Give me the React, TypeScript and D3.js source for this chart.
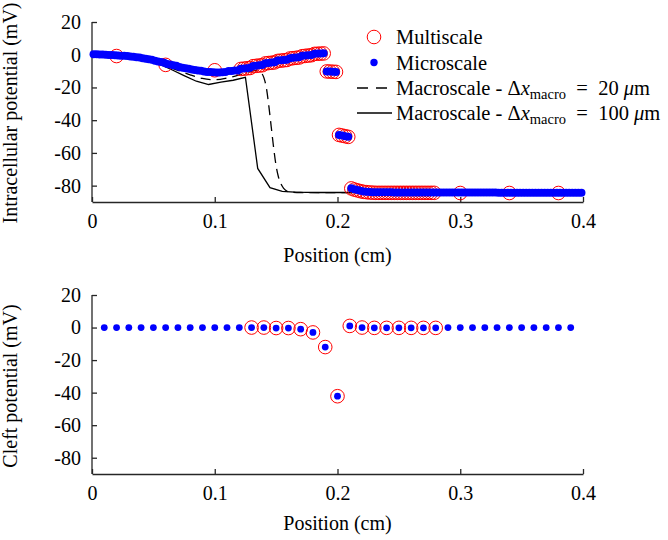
import React, { useRef, useEffect } from 'react';
import * as d3 from 'd3';

// cells are 100 um long; microscale is sampled 4 times per cell
const cellStarts = [
  0, 0.01, 0.02, 0.03, 0.04, 0.05, 0.06, 0.07, 0.08, 0.09,
  0.1, 0.11, 0.12, 0.13, 0.14, 0.15, 0.16, 0.17, 0.18, 0.19,
  0.2, 0.21, 0.22, 0.23, 0.24, 0.25, 0.26, 0.27, 0.28, 0.29,
  0.3, 0.31, 0.32, 0.33, 0.34, 0.35, 0.36, 0.37, 0.38, 0.39,
];
const subOffsets = [0.00125, 0.00375, 0.00625, 0.00875];

const microValues = [
  [0.3, 0.3, 0.2, 0.2],
  [0.0, -0.1, -0.2, -0.3],
  [-0.5, -0.6, -0.7, -0.8],
  [-1.1, -1.3, -1.5, -1.7],
  [-2.2, -2.5, -2.8, -3.1],
  [-3.7, -4.1, -4.5, -4.9],
  [-5.6, -6.0, -6.4, -6.8],
  [-7.5, -7.9, -8.2, -8.5],
  [-9.1, -9.4, -9.6, -9.8],
  [-10.3, -10.5, -10.6, -10.7],
  [-10.9, -10.8, -10.7, -10.6],
  [-10.0, -9.9, -9.7, -9.6],
  [-8.6, -8.4, -8.2, -8.0],
  [-6.9, -6.7, -6.5, -6.3],
  [-5.2, -5.0, -4.8, -4.6],
  [-3.6, -3.4, -3.2, -3.0],
  [-2.1, -1.9, -1.7, -1.5],
  [-0.7, -0.5, -0.3, -0.1],
  [0.6, 0.7, 0.8, 0.9],
  [-10.2, -10.3, -10.4, -10.5],
  [-49.0, -49.4, -49.8, -50.2],
  [-81.6, -82.2, -82.7, -83.1],
  [-83.6, -83.8, -83.9, -84.0],
  [-84.1, -84.1, -84.1, -84.1],
  [-84.1, -84.1, -84.2, -84.2],
  [-84.2, -84.2, -84.2, -84.2],
  [-84.2, -84.2, -84.2, -84.2],
  [-84.2, -84.2, -84.2, -84.2],
  [-84.2, -84.2, -84.2, -84.2],
  [-84.2, -84.2, -84.2, -84.2],
  [-84.2, -84.2, -84.2, -84.2],
  [-84.2, -84.2, -84.2, -84.2],
  [-84.2, -84.2, -84.2, -84.2],
  [-84.3, -84.3, -84.3, -84.3],
  [-84.3, -84.3, -84.3, -84.3],
  [-84.3, -84.3, -84.3, -84.3],
  [-84.3, -84.3, -84.3, -84.3],
  [-84.3, -84.3, -84.3, -84.3],
  [-84.3, -84.3, -84.3, -84.3],
  [-84.3, -84.3, -84.3, -84.3],
];

// multiscale: microscale resolution between 0.12 and 0.28 cm, coarse elsewhere
const multiDenseStarts = [
  0.12, 0.13, 0.14, 0.15, 0.16, 0.17, 0.18, 0.19,
  0.2, 0.21, 0.22, 0.23, 0.24, 0.25, 0.26, 0.27,
];
const multiDenseValues = [
  [-8.7, -8.5, -8.3, -8.1],
  [-7.0, -6.8, -6.6, -6.4],
  [-5.3, -5.1, -4.9, -4.7],
  [-3.8, -3.6, -3.4, -3.2],
  [-2.3, -2.1, -1.9, -1.7],
  [-0.9, -0.7, -0.5, -0.3],
  [0.5, 0.6, 0.7, 0.8],
  [-10.2, -10.3, -10.4, -10.5],
  [-49.0, -49.4, -49.8, -50.2],
  [-81.7, -82.4, -82.9, -83.4],
  [-83.8, -84.0, -84.2, -84.3],
  [-84.4, -84.4, -84.4, -84.4],
  [-84.4, -84.4, -84.4, -84.4],
  [-84.4, -84.4, -84.4, -84.4],
  [-84.4, -84.4, -84.4, -84.4],
  [-84.4, -84.4, -84.4, -84.4],
];
const multiSparseX = [0.02, 0.06, 0.1, 0.3, 0.34, 0.38];
const multiSparseY = [-0.8, -6.2, -9.5, -84.5, -84.5, -84.5];

// macroscale, dx = 20 um
const macro20X = [
  0, 0.01, 0.02, 0.03, 0.04, 0.05, 0.06, 0.07, 0.08, 0.09, 0.1, 0.11, 0.12, 0.13,
  0.134, 0.137, 0.14, 0.142, 0.144, 0.146, 0.148, 0.15, 0.152, 0.154, 0.156, 0.158,
  0.16, 0.17, 0.2, 0.3, 0.4,
];
const macro20Y = [
  -0.3, -0.5, -0.8, -1.3, -2.3, -4.2, -6.8, -9.5, -12.3, -14.5, -15.3, -14.2, -12.3, -10.0,
  -9.6, -10.5, -14, -20, -31, -44, -57, -68, -75, -79, -81.5, -83,
  -83.8, -84.2, -84.3, -84.4, -84.5,
];

// macroscale, dx = 100 um (cell centres)
const macro100X = [
  0.005, 0.015, 0.025, 0.035, 0.045, 0.055, 0.065, 0.075, 0.085, 0.095,
  0.105, 0.115, 0.125, 0.135, 0.145, 0.155, 0.165, 0.175, 0.185, 0.195,
  0.205, 0.215, 0.225, 0.235, 0.245, 0.255, 0.265, 0.275, 0.285, 0.295,
  0.305, 0.315, 0.325, 0.335, 0.345, 0.355, 0.365, 0.375, 0.385, 0.395,
];
const macro100Y = [
  -0.5, -0.8, -1.2, -1.8, -3.2, -5.8, -9.2, -12.8, -16.2, -18.2,
  -16.8, -15.6, -13.8, -69.5, -81.2, -83.5, -84.0, -84.1, -84.2, -84.2,
  -84.2, -84.2, -84.2, -84.2, -84.2, -84.3, -84.3, -84.3, -84.3, -84.3,
  -84.3, -84.3, -84.3, -84.3, -84.3, -84.3, -84.3, -84.3, -84.3, -84.3,
];

// cleft potentials at the cell junctions
const cleftX = [
  0.01, 0.02, 0.03, 0.04, 0.05, 0.06, 0.07, 0.08, 0.09, 0.1,
  0.11, 0.12, 0.13, 0.14, 0.15, 0.16, 0.17, 0.18, 0.19, 0.2,
  0.21, 0.22, 0.23, 0.24, 0.25, 0.26, 0.27, 0.28, 0.29, 0.3,
  0.31, 0.32, 0.33, 0.34, 0.35, 0.36, 0.37, 0.38, 0.39,
];
const cleftMicro = [
  0, 0, 0, 0, 0, 0, 0, 0, 0, 0,
  0, 0, 0, 0, -0.3, -0.3, -1.0, -3.0, -12.0, -42.2,
  1.0, 0, -0.2, -0.2, -0.2, -0.2, -0.2, -0.2, 0, 0,
  0, 0, 0, 0, 0, 0, 0, 0, 0,
];
const cleftMultiX = [
  0.13, 0.14, 0.15, 0.16, 0.17, 0.18, 0.19, 0.2,
  0.21, 0.22, 0.23, 0.24, 0.25, 0.26, 0.27, 0.28,
];
const cleftMulti = [
  0, 0, -0.3, -0.3, -1.0, -3.0, -12.0, -42.2,
  1.0, 0, -0.2, -0.2, -0.2, -0.2, -0.2, -0.2,
];

const xTicks = [0, 0.1, 0.2, 0.3, 0.4];
const yTicks = [20, 0, -20, -40, -60, -80];

const FONT = "'Liberation Serif', 'Times New Roman', serif";
const AXIS_COLOR = '#262626';

function App() {
  const svgRef = useRef(null);

  useEffect(() => {
    const svg = d3.select(svgRef.current);
    svg.selectAll('*').remove();

    const x = d3.scaleLinear().domain([0, 0.4]).range([92, 583]);
    const yTop = d3.scaleLinear().domain([-90, 20]).range([202, 22]);
    const yBot = d3.scaleLinear().domain([-90, 20]).range([474, 295]);

    const drawAxes = (y, label, labelY, xLabelOffset) => {
      const gx = svg.append('g')
        .attr('transform', `translate(0,${y.range()[0]})`)
        .call(d3.axisBottom(x).tickValues(xTicks).tickFormat(d => String(d))
          .tickSizeInner(-5).tickSizeOuter(0).tickPadding(12));
      const gy = svg.append('g')
        .attr('transform', `translate(${x.range()[0]},0)`)
        .call(d3.axisLeft(y).tickValues(yTicks).tickFormat(d => String(d))
          .tickSizeInner(-5).tickSizeOuter(0).tickPadding(11));
      [gx, gy].forEach(g => {
        g.attr('font-family', FONT).attr('font-size', 20);
        g.select('.domain').attr('stroke', AXIS_COLOR).attr('stroke-width', 1.3);
        g.selectAll('.tick line').attr('stroke', AXIS_COLOR).attr('stroke-width', 1.3);
        g.selectAll('.tick text').attr('fill', '#000');
      });
      // y axis runs the full domain, up to 20
      gy.select('.domain').attr('d', `M0,${y.range()[0]}V${y.range()[1]}`);

      svg.append('text')
        .attr('x', (x.range()[0] + x.range()[1]) / 2)
        .attr('y', y.range()[0] + xLabelOffset)
        .attr('text-anchor', 'middle')
        .attr('font-family', FONT).attr('font-size', 20)
        .text('Position (cm)');

      svg.append('text')
        .attr('transform', `translate(17,${labelY}) rotate(-90)`)
        .attr('text-anchor', 'middle')
        .attr('font-family', FONT).attr('font-size', 20)
        .text(label);
    };

    drawAxes(yTop, 'Intracellular potential (mV)', 113, 60);
    drawAxes(yBot, 'Cleft potential (mV)', 386, 56);

    // ---- top panel ----
    const microPts = [];
    cellStarts.forEach((s, i) => {
      subOffsets.forEach((o, j) => microPts.push([s + o, microValues[i][j]]));
    });
    const multiPts = multiSparseX.map((v, i) => [v, multiSparseY[i]]);
    multiDenseStarts.forEach((s, i) => {
      subOffsets.forEach((o, j) => multiPts.push([s + o, multiDenseValues[i][j]]));
    });

    const line = d3.line()
      .x(d => x(d[0]))
      .y(d => yTop(d[1]));

    svg.append('path')
      .datum(macro20X.map((v, i) => [v, macro20Y[i]]))
      .attr('fill', 'none')
      .attr('stroke', '#000')
      .attr('stroke-width', 1.3)
      .attr('stroke-dasharray', '10,6')
      .attr('d', line.curve(d3.curveMonotoneX));

    svg.append('path')
      .datum(macro100X.map((v, i) => [v, macro100Y[i]]))
      .attr('fill', 'none')
      .attr('stroke', '#000')
      .attr('stroke-width', 1.3)
      .attr('d', line.curve(d3.curveLinear));

    svg.append('g').selectAll('circle')
      .data(multiPts)
      .enter().append('circle')
      .attr('cx', d => x(d[0]))
      .attr('cy', d => yTop(d[1]))
      .attr('r', 6.8)
      .attr('fill', 'none')
      .attr('stroke', '#ff0000')
      .attr('stroke-width', 1);

    svg.append('g').selectAll('circle')
      .data(microPts)
      .enter().append('circle')
      .attr('cx', d => x(d[0]))
      .attr('cy', d => yTop(d[1]))
      .attr('r', 4)
      .attr('fill', '#0000ff');

    // ---- bottom panel ----
    svg.append('g').selectAll('circle')
      .data(cleftMultiX.map((v, i) => [v, cleftMulti[i]]))
      .enter().append('circle')
      .attr('cx', d => x(d[0]))
      .attr('cy', d => yBot(d[1]))
      .attr('r', 6.8)
      .attr('fill', 'none')
      .attr('stroke', '#ff0000')
      .attr('stroke-width', 1);

    svg.append('g').selectAll('circle')
      .data(cleftX.map((v, i) => [v, cleftMicro[i]]))
      .enter().append('circle')
      .attr('cx', d => x(d[0]))
      .attr('cy', d => yBot(d[1]))
      .attr('r', 3.4)
      .attr('fill', '#0000ff');

    // ---- legend ----
    const lg = svg.append('g').attr('font-family', FONT).attr('font-size', 20.5);
    const rows = [37, 62.5, 88, 113];
    const tx = 396;
    lg.append('circle').attr('cx', 374).attr('cy', rows[0]).attr('r', 6.8)
      .attr('fill', 'none').attr('stroke', '#ff0000').attr('stroke-width', 1);
    lg.append('circle').attr('cx', 374).attr('cy', rows[1]).attr('r', 3.7).attr('fill', '#0000ff');
    lg.append('line').attr('x1', 357).attr('x2', 392).attr('y1', rows[2]).attr('y2', rows[2])
      .attr('stroke', '#000').attr('stroke-width', 1.3).attr('stroke-dasharray', '11,8');
    lg.append('line').attr('x1', 357).attr('x2', 392).attr('y1', rows[3]).attr('y2', rows[3])
      .attr('stroke', '#000').attr('stroke-width', 1.3);

    lg.append('text').attr('x', tx).attr('y', rows[0] + 7).text('Multiscale');
    lg.append('text').attr('x', tx).attr('y', rows[1] + 7).text('Microscale');

    const macroLabel = (row, value) => {
      const t = lg.append('text').attr('x', tx).attr('y', row + 7);
      t.append('tspan').text('Macroscale - \u0394');
      t.append('tspan').attr('font-style', 'italic').text('x');
      t.append('tspan').attr('font-size', 14.5).attr('dy', 4).text('macro');
      t.append('tspan').attr('dy', -4).text('\u2002=\u2002' + value + '\u00a0');
      t.append('tspan').attr('font-style', 'italic').text('\u03bc');
      t.append('tspan').text('m');
    };
    macroLabel(rows[2], '20');
    macroLabel(rows[3], '100');
  }, []);

  return (
    <svg
      ref={svgRef}
      width={668}
      height={540}
      style={{ position: 'absolute', left: 0, top: 0, background: '#fff' }}
    />
  );
}

export default App;
